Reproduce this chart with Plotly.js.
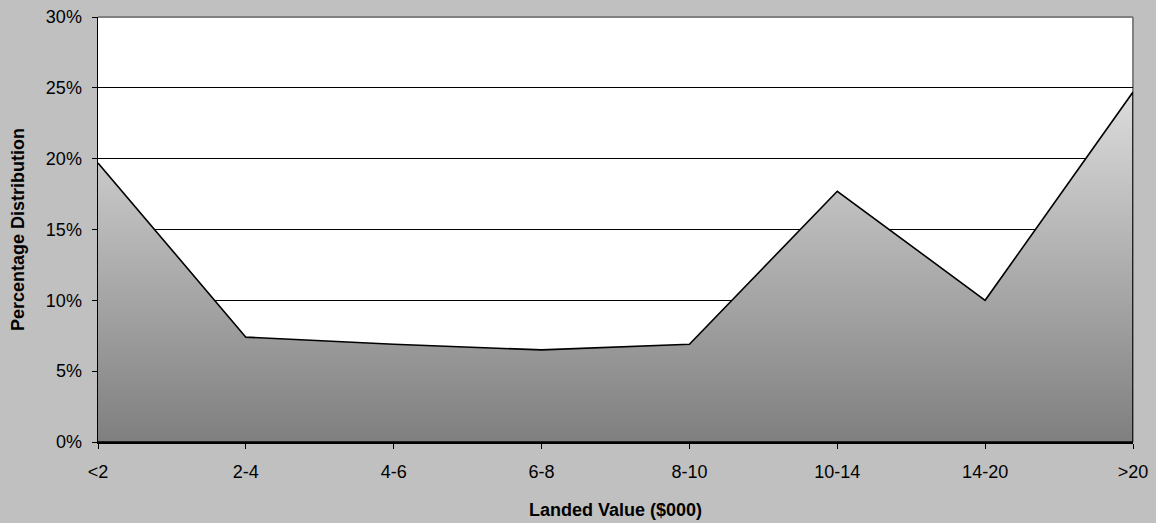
<!DOCTYPE html>
<html>
<head>
<meta charset="utf-8">
<script src="https://cdn.plot.ly/plotly-3.0.1.min.js"></script>
<style>html,body{margin:0;padding:0;background:#c0c0c0;}#chart{width:1156px;height:523px;}</style>
</head>
<body>
<div id="chart"></div>
<script>
const categories = ['<2', '2-4', '4-6', '6-8', '8-10', '10-14', '14-20', '>20'];
const percentValues = [19.7, 7.4, 6.9, 6.5, 6.9, 17.7, 10.0, 24.7];
const yTickValues = [0, 5, 10, 15, 20, 25, 30];
const yTickLabels = ['0%', '5%', '10%', '15%', '20%', '25%', '30%'];
const xTitle = 'Landed Value ($000)';
const yTitle = 'Percentage Distribution';

const n = categories.length;
const trace = {
  type: 'scatter',
  mode: 'lines',
  x: categories.concat([categories[n - 1], categories[0]]),
  y: percentValues.concat([0, 0]),
  fill: 'toself',
  fillgradient: {
    type: 'vertical',
    colorscale: [[0, '#7f7f7f'], [1, '#dcdcdc']]
  },
  line: {color: '#000000', width: 1.6},
  hoverinfo: 'skip',
  showlegend: false
};

const font = {family: 'Liberation Sans, Arial, sans-serif', size: 18, color: '#000000'};

const layout = {
  width: 1156,
  height: 523,
  paper_bgcolor: '#c0c0c0',
  plot_bgcolor: '#ffffff',
  margin: {l: 98, r: 23, t: 17, b: 81},
  font: font,
  showlegend: false,
  xaxis: {
    type: 'category',
    categoryorder: 'array',
    categoryarray: categories,
    range: [0, n - 1],
    showgrid: false,
    zeroline: false,
    showline: true,
    linecolor: '#000000',
    linewidth: 1.5,
    ticks: 'outside',
    ticklen: 5,
    tickwidth: 1,
    tickcolor: '#000000',
    ticklabelstandoff: 8,
    tickfont: font,
    title: {text: xTitle, font: {family: font.family, size: 18, color: '#000000', weight: 'bold'}, standoff: 22}
  },
  yaxis: {
    range: [0, 30],
    tickmode: 'array',
    tickvals: yTickValues,
    ticktext: yTickLabels,
    showgrid: true,
    gridcolor: '#000000',
    gridwidth: 1,
    zeroline: false,
    showline: true,
    linecolor: '#000000',
    linewidth: 1.5,
    ticks: 'outside',
    ticklen: 5,
    tickwidth: 1,
    tickcolor: '#000000',
    ticklabelstandoff: 6,
    tickfont: font,
    title: {text: yTitle, font: {family: font.family, size: 18, color: '#000000', weight: 'bold'}, standoff: 16}
  },
  shapes: [
    {type: 'line', xref: 'paper', yref: 'paper', x0: 0, x1: 1, y0: 1, y1: 1, line: {color: '#808080', width: 2}, layer: 'above'},
    {type: 'line', xref: 'paper', yref: 'paper', x0: 1, x1: 1, y0: 0, y1: 1, line: {color: '#808080', width: 2}, layer: 'below'}
  ]
};

Plotly.newPlot('chart', [trace], layout, {staticPlot: true, displayModeBar: false});
</script>
</body>
</html>
